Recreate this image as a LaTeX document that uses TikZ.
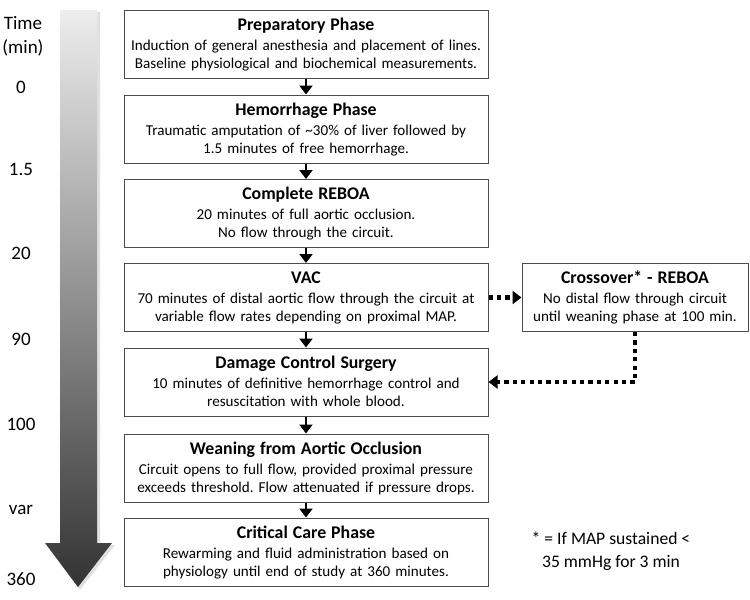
\documentclass[tikz,border=0pt]{standalone}
\usepackage{fontspec}
\setmainfont{Carlito}
\usetikzlibrary{arrows.meta}
\frenchspacing
\begin{document}
\begin{tikzpicture}[x=1pt,y=-1pt,
  phase/.style={draw=black!70,line width=1pt,minimum width=364pt,minimum height=68pt,
    text width=362pt,align=center,inner sep=0pt,font=\fontsize{15.1}{18}\selectfont\frenchspacing},
  side/.style={phase,minimum width=226pt,text width=224pt},
  flow/.style={line width=2.8pt,-{Triangle[width=13pt,length=9pt]}},
  dotflow/.style={line width=4.2pt,dash pattern=on 4.2pt off 4.2pt,-{Triangle[width=13pt,length=9pt]}},
  tlabel/.style={font=\fontsize{19}{22}\selectfont,anchor=center}]
\useasboundingbox (0,0) rectangle (750,600);
% big time arrow (soft shadow + shaded body)
\fill[black,opacity=0.12]
  (62,12) -- (100,12) -- (100,545) -- (115,545) -- (80,590) -- (47,545) -- (62,545) -- cycle;
\shade[top color=black!7,bottom color=black!80]
  (60,10) -- (97,10) -- (97,543) -- (112,543) -- (78,587) -- (45,543) -- (60,543) -- cycle;
% time labels
\node[tlabel] (tA) at (23,23) {Time};
\node[tlabel] (tB) at (23,48) {(min)};
\node[tlabel] (t0) at (21,87) {0};
\node[tlabel] (t1) at (21,169) {1.5};
\node[tlabel] (t2) at (21,253) {20};
\node[tlabel] (t3) at (21,339) {90};
\node[tlabel] (t4) at (21,424) {100};
\node[tlabel] (t5) at (21,510) {var};
\node[tlabel] (t6) at (21,579) {360};
% phases
\newcommand{\phtitle}[1]{\rule{0pt}{16pt}{\fontsize{17.8}{21}\selectfont\bfseries #1}\\[2pt]}
\newcommand{\phend}{\rule[-6pt]{0pt}{6pt}}
\node[phase] (p1) at (306,44) {\phtitle{Preparatory Phase}Induction of general anesthesia and placement of lines.\\Baseline physiological and biochemical measurements.\phend};
\node[phase] (p2) at (306,129) {\phtitle{Hemorrhage Phase}Traumatic amputation of \textasciitilde30\% of liver followed by\\1.5 minutes of free hemorrhage.\phend};
\node[phase] (p3) at (306,213.5) {\phtitle{Complete REBOA}20 minutes of full aortic occlusion.\\No flow through the circuit.\phend};
\node[phase] (p4) at (306,297.5) {\phtitle{VAC}70 minutes of distal aortic flow through the circuit at\\variable flow rates depending on proximal MAP.\phend};
\node[phase] (p5) at (306,382) {\phtitle{Damage Control Surgery}10 minutes of definitive hemorrhage control and\\resuscitation with whole blood.\phend};
\node[phase] (p6) at (306,468) {\phtitle{Weaning from Aortic Occlusion}Circuit opens to full flow, provided proximal pressure\\exceeds threshold. Flow attenuated if pressure drops.\phend};
\node[phase] (p7) at (306,552) {\phtitle{Critical Care Phase}Rewarming and fluid administration based on\\physiology until end of study at 360 minutes.\phend};
\node[side] (cx) at (635,297.5) {\phtitle{Crossover* - REBOA}No distal flow through circuit\\until weaning phase at 100 min.\phend};
% footnote
\node[align=center,font=\fontsize{17.6}{23}\selectfont] (fn) at (611,551) {* = If MAP sustained <\\35 mmHg for 3 min};
% arrows
\draw[flow] (p1) -- (p2);
\draw[flow] (p2) -- (p3);
\draw[flow] (p3) -- (p4);
\draw[flow] (p4) -- (p5);
\draw[flow] (p5) -- (p6);
\draw[flow] (p6) -- (p7);
\draw[dotflow] (p4) -- (cx);
\draw[dotflow] (cx.south) |- (p5.east);
\end{tikzpicture}
\end{document}
